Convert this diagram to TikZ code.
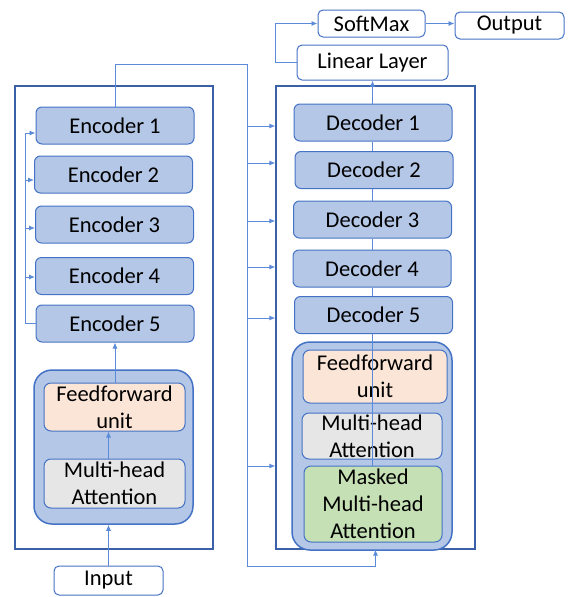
\documentclass[tikz,border=0pt]{standalone}
\usepackage{fontspec}
\setmainfont{Carlito}
\usetikzlibrary{arrows.meta}

\definecolor{boxblue}{HTML}{B4C7E7}
\definecolor{edgeblue}{HTML}{4472C4}
\definecolor{wireblue}{HTML}{5B8BD8}
\definecolor{ffpeach}{HTML}{FBE5D6}
\definecolor{attgrey}{HTML}{E7E6E6}
\definecolor{maskgreen}{HTML}{C5E0B4}

\begin{document}
\begin{tikzpicture}[x=1pt, y=-1pt,
  every node/.style={font=\fontsize{22.5}{27}\selectfont, inner sep=0pt, align=center},
  layer/.style={draw=edgeblue, fill=boxblue, line width=1pt, rounded corners=6pt,
    minimum width=158pt, minimum height=37pt},
  unitbox/.style={draw=edgeblue, fill=boxblue, line width=1.5pt, rounded corners=18pt},
  inner/.style={draw=edgeblue, line width=1pt, rounded corners=7pt},
  plain/.style={draw=edgeblue, fill=white, line width=1pt, rounded corners=5pt},
  frame/.style={draw=edgeblue!85!black, line width=1.2pt},
  wire/.style={draw=wireblue, line width=0.9pt},
  >={Latex[length=6pt, width=5pt]}]
  \useasboundingbox (0,0) rectangle (568,597);

  % Outer frames
  \node[frame, minimum width=198pt, minimum height=463pt] (encbox) at (114,317.5) {};
  \node[frame, minimum width=199pt, minimum height=463pt] (decbox) at (375.5,317.5) {};

  % Encoder stack
  \node[layer] (enc1) at (115,125.5) {Encoder 1};
  \node[layer] (enc2) at (113.5,174.5) {Encoder 2};
  \node[layer] (enc3) at (114.5,224.5) {Encoder 3};
  \node[layer] (enc4) at (114.5,276) {Encoder 4};
  \node[layer] (enc5) at (115,323.5) {Encoder 5};

  % Encoder unit
  \node[unitbox, minimum width=159pt, minimum height=154pt] (encunit) at (113.5,447) {};
  \node[inner, fill=ffpeach, minimum width=141pt, minimum height=48pt] (encff) at (114.5,407) {Feedforward\\unit};
  \node[inner, fill=attgrey, minimum width=141pt, minimum height=49pt] (encatt) at (114.5,483.5) {Multi-head\\Attention};
  \node[plain, minimum width=109pt, minimum height=29pt] (input) at (108.5,580.5) {Input};

  % Decoder stack
  \node[layer] (dec1) at (373,122.5) {Decoder 1};
  \node[layer] (dec2) at (374,170) {Decoder 2};
  \node[layer] (dec3) at (372.5,219.5) {Decoder 3};
  \node[layer] (dec4) at (372,268.5) {Decoder 4};
  \node[layer] (dec5) at (373.5,315) {Decoder 5};

  % Decoder unit
  \node[unitbox, minimum width=160pt, minimum height=208pt] (decunit) at (372,446) {};
  \node[inner, fill=ffpeach, minimum width=144pt, minimum height=53pt] (decff) at (375,376.5) {Feedforward\\unit};
  \node[inner, fill=attgrey, minimum width=140pt, minimum height=46pt] (decatt) at (372,436) {Multi-head\\Attention};
  \node[inner, fill=maskgreen, minimum width=138pt, minimum height=76pt] (mask) at (373,504) {Masked\\Multi-head\\Attention};

  % Output side
  \node[plain, minimum width=151pt, minimum height=35pt] (linear) at (372.5,62.5) {Linear Layer};
  \node[plain, minimum width=107pt, minimum height=27pt] (smax) at (371.5,23.5) {SoftMax};
  \node[plain, minimum width=109pt, minimum height=27pt] (out) at (509.5,25.5) {Output};

  % Encoder flow
  \draw[wire, ->] (input.north) -- (input.north |- encunit.south);
  \draw[wire, ->] (encatt.north -| input.north) -- (encff.south -| input.north);
  \draw[wire, ->] (encff.north -| enc1.north) -- (enc5.south -| enc1.north);

  % Feedback into the encoders
  \coordinate (fb) at (25,133);
  \draw[wire] (enc5.west) -| (fb);
  \foreach \n/\y in {enc1/133, enc2/180, enc3/228, enc4/277}
    \draw[wire, ->] (fb |- 0,\y) -- (\n.west |- 0,\y);

  % Encoder output to the decoders
  \coordinate (trtop) at (247,64);
  \coordinate (trbot) at (247,566);
  \draw[wire, ->] (enc1.north) |- (trtop) -- (trbot) -| (decbox.south);
  \foreach \y in {126,163,221,267,318,466}
    \draw[wire, ->] (trtop |- 0,\y) -- (decbox.west |- 0,\y);

  % Decoder flow
  \draw[wire] (mask.north -| decatt.north) -- (dec5.south -| decatt.north);
  \foreach \a/\b in {dec5/dec4, dec4/dec3, dec3/dec2, dec2/dec1}
    \draw[wire] (\a.north -| decatt.north) -- (\b.south -| decatt.north);
  \draw[wire, ->] (dec1.north -| linear.south) -- (linear.south);
  \draw[wire, ->] (linear.west) -- ++(-21,0) |- (smax.west);
  \draw[wire, ->] (smax.east) -- (smax.east -| out.west);
\end{tikzpicture}
\end{document}
